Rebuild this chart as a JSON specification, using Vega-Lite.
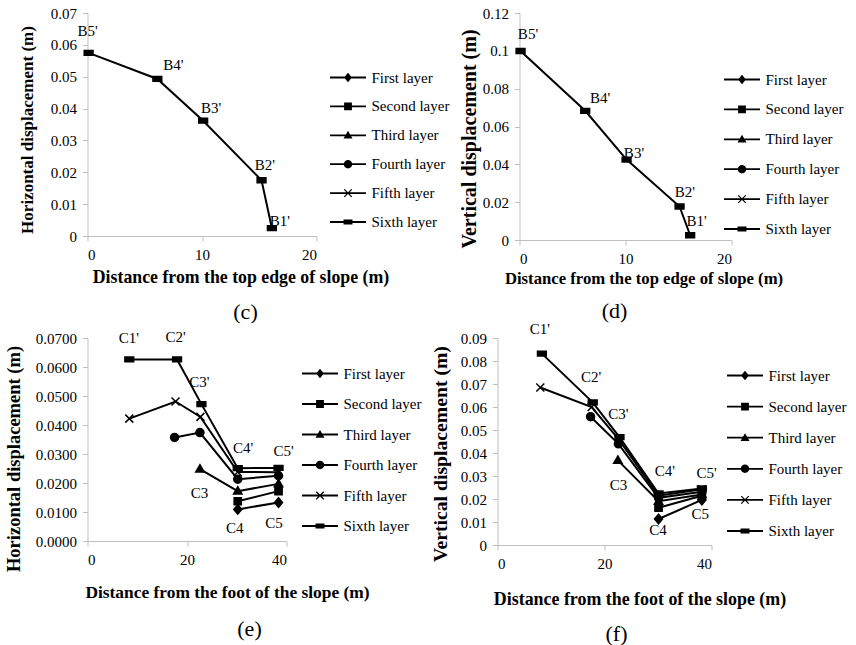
{
  "$schema": "https://vega.github.io/schema/vega-lite/v6.json",
  "background": "white",
  "padding": {"left": 4.5, "top": 6, "right": 0, "bottom": 0},
  "config": {
    "font": "Liberation Serif",
    "view": {"stroke": null},
    "axis": {
      "grid": false,
      "domainColor": "#bfbfbf",
      "tickColor": "#bfbfbf",
      "tickSize": 5,
      "tickCount": 20,
      "labelFont": "Liberation Serif",
      "labelFontSize": 15,
      "labelColor": "black",
      "labelPadding": 6,
      "labelOverlap": false,
      "titleFont": "Liberation Serif",
      "titleFontSize": 17,
      "titleFontWeight": "bold",
      "titleColor": "black"
    },
    "legend": {
      "labelFont": "Liberation Serif",
      "labelFontSize": 15,
      "labelColor": "black",
      "padding": 0,
      "labelOffset": 16,
      "symbolSize": 144
    },
    "title": {"font": "Liberation Serif", "fontSize": 22, "fontWeight": "normal", "color": "black", "orient": "bottom", "anchor": "middle", "frame": "group"}
  },
  "datasets": {
    "pts": [
      {"panel": "c", "series": "Sixth layer", "x": 0.1, "y": 0.0575},
      {"panel": "c", "series": "Sixth layer", "x": 6.1, "y": 0.0493},
      {"panel": "c", "series": "Sixth layer", "x": 10.1, "y": 0.0362},
      {"panel": "c", "series": "Sixth layer", "x": 15.2, "y": 0.0175},
      {"panel": "c", "series": "Sixth layer", "x": 16.1, "y": 0.0025},
      {"panel": "d", "series": "Sixth layer", "x": 0.1, "y": 0.0999},
      {"panel": "d", "series": "Sixth layer", "x": 6.2, "y": 0.0683},
      {"panel": "d", "series": "Sixth layer", "x": 10.1, "y": 0.0425},
      {"panel": "d", "series": "Sixth layer", "x": 15.1, "y": 0.0177},
      {"panel": "d", "series": "Sixth layer", "x": 16.1, "y": 0.0025},
      {"panel": "e", "series": "Sixth layer", "x": 8.4, "y": 0.0626},
      {"panel": "e", "series": "Sixth layer", "x": 18.0, "y": 0.0626},
      {"panel": "e", "series": "Sixth layer", "x": 22.9, "y": 0.0472},
      {"panel": "e", "series": "Sixth layer", "x": 30.2, "y": 0.0251},
      {"panel": "e", "series": "Sixth layer", "x": 38.4, "y": 0.0252},
      {"panel": "e", "series": "Fifth layer", "x": 8.4, "y": 0.0422},
      {"panel": "e", "series": "Fifth layer", "x": 17.7, "y": 0.0481},
      {"panel": "e", "series": "Fifth layer", "x": 22.7, "y": 0.0428},
      {"panel": "e", "series": "Fifth layer", "x": 30.2, "y": 0.0238},
      {"panel": "e", "series": "Fifth layer", "x": 38.4, "y": 0.0237},
      {"panel": "e", "series": "Fourth layer", "x": 17.5, "y": 0.0357},
      {"panel": "e", "series": "Fourth layer", "x": 22.6, "y": 0.0374},
      {"panel": "e", "series": "Fourth layer", "x": 30.2, "y": 0.0213},
      {"panel": "e", "series": "Fourth layer", "x": 38.4, "y": 0.0225},
      {"panel": "e", "series": "Third layer", "x": 22.6, "y": 0.0248},
      {"panel": "e", "series": "Third layer", "x": 30.2, "y": 0.0172},
      {"panel": "e", "series": "Third layer", "x": 38.4, "y": 0.0197},
      {"panel": "e", "series": "Second layer", "x": 30.2, "y": 0.0137},
      {"panel": "e", "series": "Second layer", "x": 38.4, "y": 0.0172},
      {"panel": "e", "series": "First layer", "x": 30.2, "y": 0.0109},
      {"panel": "e", "series": "First layer", "x": 38.4, "y": 0.0133},
      {"panel": "f", "series": "Sixth layer", "x": 8.3, "y": 0.0832},
      {"panel": "f", "series": "Sixth layer", "x": 17.8, "y": 0.0620},
      {"panel": "f", "series": "Sixth layer", "x": 22.8, "y": 0.0469},
      {"panel": "f", "series": "Sixth layer", "x": 30.1, "y": 0.0224},
      {"panel": "f", "series": "Sixth layer", "x": 38.2, "y": 0.0246},
      {"panel": "f", "series": "Fifth layer", "x": 8.0, "y": 0.0685},
      {"panel": "f", "series": "Fifth layer", "x": 17.6, "y": 0.0600},
      {"panel": "f", "series": "Fifth layer", "x": 22.7, "y": 0.0458},
      {"panel": "f", "series": "Fifth layer", "x": 30.1, "y": 0.0214},
      {"panel": "f", "series": "Fifth layer", "x": 38.2, "y": 0.0242},
      {"panel": "f", "series": "Fourth layer", "x": 17.4, "y": 0.0558},
      {"panel": "f", "series": "Fourth layer", "x": 22.6, "y": 0.0440},
      {"panel": "f", "series": "Fourth layer", "x": 30.1, "y": 0.0205},
      {"panel": "f", "series": "Fourth layer", "x": 38.2, "y": 0.0232},
      {"panel": "f", "series": "Third layer", "x": 22.5, "y": 0.0368},
      {"panel": "f", "series": "Third layer", "x": 30.1, "y": 0.0190},
      {"panel": "f", "series": "Third layer", "x": 38.2, "y": 0.0220},
      {"panel": "f", "series": "Second layer", "x": 30.1, "y": 0.0162},
      {"panel": "f", "series": "Second layer", "x": 38.2, "y": 0.0214},
      {"panel": "f", "series": "First layer", "x": 30.1, "y": 0.0113},
      {"panel": "f", "series": "First layer", "x": 38.2, "y": 0.0196}
    ],
    "labels": [
      {"panel": "c", "label": "B5'", "x": 0.0, "y": 0.0644},
      {"panel": "c", "label": "B4'", "x": 7.5, "y": 0.0537},
      {"panel": "c", "label": "B3'", "x": 10.8, "y": 0.0402},
      {"panel": "c", "label": "B2'", "x": 15.5, "y": 0.0222},
      {"panel": "c", "label": "B1'", "x": 16.8, "y": 0.0048},
      {"panel": "d", "label": "B5'", "x": 0.8, "y": 0.1091},
      {"panel": "d", "label": "B4'", "x": 7.6, "y": 0.0750},
      {"panel": "d", "label": "B3'", "x": 10.8, "y": 0.0462},
      {"panel": "d", "label": "B2'", "x": 15.6, "y": 0.0255},
      {"panel": "d", "label": "B1'", "x": 16.7, "y": 0.0102},
      {"panel": "e", "label": "C1'", "x": 8.3, "y": 0.0701},
      {"panel": "e", "label": "C2'", "x": 17.7, "y": 0.0705},
      {"panel": "e", "label": "C3'", "x": 22.5, "y": 0.0549},
      {"panel": "e", "label": "C4'", "x": 31.3, "y": 0.0322},
      {"panel": "e", "label": "C5'", "x": 39.4, "y": 0.0310},
      {"panel": "e", "label": "C3", "x": 22.5, "y": 0.0164},
      {"panel": "e", "label": "C4", "x": 29.6, "y": 0.0046},
      {"panel": "e", "label": "C5", "x": 37.5, "y": 0.0061},
      {"panel": "f", "label": "C1'", "x": 7.9, "y": 0.0937},
      {"panel": "f", "label": "C2'", "x": 17.5, "y": 0.0730},
      {"panel": "f", "label": "C3'", "x": 22.6, "y": 0.0571},
      {"panel": "f", "label": "C4'", "x": 31.3, "y": 0.0322},
      {"panel": "f", "label": "C5'", "x": 39.1, "y": 0.0315},
      {"panel": "f", "label": "C3", "x": 22.6, "y": 0.0260},
      {"panel": "f", "label": "C4", "x": 30.0, "y": 0.0065},
      {"panel": "f", "label": "C5", "x": 37.9, "y": 0.0133}
    ]
  },
  "vconcat": [
    {
      "hconcat": [
        {
          "width": 229, "height": 223,
          "title": {"text": "(c)", "dx": 43.5, "offset": 16},
          "resolve": {"scale": {"shape": "independent"}, "legend": {"shape": "independent"}},
          "layer": [
            {
              "data": {"name": "pts"},
              "transform": [{"filter": "datum.panel == 'c'"}],
              "mark": {"type": "line", "color": "black", "strokeWidth": 2},
              "encoding": {
                "x": {"field": "x", "type": "quantitative", "scale": {"domain": [0, 20], "nice": false}, "axis": {"values": [0, 10, 20], "format": "d", "title": "Distance from the top edge of slope (m)", "titlePadding": 6.5, "titleFontSize": 17.8, "titleX": 153}},
                "y": {"field": "y", "type": "quantitative", "scale": {"domain": [0, 0.07], "nice": false}, "axis": {"values": [0, 0.01, 0.02, 0.03, 0.04, 0.05, 0.06, 0.07], "tickCount": 20, "format": ".2~f", "title": "Horizontal displacement (m)", "titlePadding": 13.5, "titleFontSize": 17, "titleY": 116.5}},
                "detail": {"field": "series"}
              }
            },
            {
              "data": {"name": "pts"},
              "transform": [{"filter": "datum.panel == 'c'"}],
              "mark": {"type": "point", "filled": true, "fill": "black", "stroke": "black", "strokeWidth": 1.5, "opacity": 1, "size": 64},
              "encoding": {
                "x": {"field": "x", "type": "quantitative"},
                "y": {"field": "y", "type": "quantitative"},
                "shape": {"field": "series", "type": "nominal", "legend": null,
                  "scale": {"domain": ["First layer", "Second layer", "Third layer", "Fourth layer", "Fifth layer", "Sixth layer"],
                    "range": ["M0,-1.2L1,0L0,1.2L-1,0Z", "M-0.9,-0.9H0.9V0.9H-0.9Z", "M0,-1.1L1.05,0.75H-1.05Z", "M1,0A1,1,0,1,1,-1,0A1,1,0,1,1,1,0Z", "M-1,-1L1,1M-1,1L1,-1", "M-1.1,-0.6H1.1V0.6H-1.1Z"]}}
              }
            },
            {
              "data": {"name": "labels"},
              "transform": [{"filter": "datum.panel == 'c'"}],
              "mark": {"type": "text", "font": "Liberation Serif", "fontSize": 15, "color": "black"},
              "encoding": {
                "x": {"field": "x", "type": "quantitative"},
                "y": {"field": "y", "type": "quantitative"},
                "text": {"field": "label"}
              }
            },
            {
              "data": {"name": "pts"},
              "transform": [{"filter": "datum.panel == 'none'"}],
              "mark": {"type": "point", "filled": true, "fill": "black", "opacity": 1, "size": 144},
              "encoding": {
                "shape": {"field": "series", "type": "nominal",
                  "legend": {"title": null, "orient": "none", "legendX": 253, "legendY": 57, "rowPadding": 12.9},
                  "scale": {"domain": ["First layer", "Second layer", "Third layer", "Fourth layer", "Fifth layer", "Sixth layer"],
                    "range": ["M-3,-0.15H3V0.15H-3ZM0,-0.8L0.65,0L0,0.8L-0.65,0Z", "M-3,-0.15H3V0.15H-3ZM-0.65,-0.65H0.65V0.65H-0.65Z", "M-3,-0.15H3V0.15H-3ZM0,-0.75L0.75,0.55H-0.75Z", "M-3,-0.15H3V0.15H-3ZM0.7,0A0.7,0.7,0,1,1,-0.7,0A0.7,0.7,0,1,1,0.7,0Z", "M-3,-0.15H3V0.15H-3ZM-0.7,-0.55L-0.55,-0.7L0.7,0.55L0.55,0.7ZM0.55,-0.7L0.7,-0.55L-0.55,0.7L-0.7,0.55Z", "M-3,-0.15H3V0.15H-3ZM-0.75,-0.4H0.75V0.4H-0.75Z"]}}
              }
            }
          ]
        },
        {
          "width": 212, "height": 227,
          "title": {"text": "(d)", "dx": -11, "offset": 14},
          "resolve": {"scale": {"shape": "independent"}, "legend": {"shape": "independent"}},
          "layer": [
            {
              "data": {"name": "pts"},
              "transform": [{"filter": "datum.panel == 'd'"}],
              "mark": {"type": "line", "color": "black", "strokeWidth": 2},
              "encoding": {
                "x": {"field": "x", "type": "quantitative", "scale": {"domain": [0, 20], "nice": false}, "axis": {"values": [0, 10, 20], "format": "d", "title": "Distance from the top edge of slope (m)", "titlePadding": 4, "titleFontSize": 16.7, "titleX": 124}},
                "y": {"field": "y", "type": "quantitative", "scale": {"domain": [0, 0.12], "nice": false}, "axis": {"values": [0, 0.02, 0.04, 0.06, 0.08, 0.1, 0.12], "tickCount": 20, "format": ".2~f", "title": "Vertical displacement (m)", "titlePadding": 2.5, "titleFontSize": 20, "titleY": 125.5}},
                "detail": {"field": "series"}
              }
            },
            {
              "data": {"name": "pts"},
              "transform": [{"filter": "datum.panel == 'd'"}],
              "mark": {"type": "point", "filled": true, "fill": "black", "stroke": "black", "strokeWidth": 1.5, "opacity": 1, "size": 64},
              "encoding": {
                "x": {"field": "x", "type": "quantitative"},
                "y": {"field": "y", "type": "quantitative"},
                "shape": {"field": "series", "type": "nominal", "legend": null,
                  "scale": {"domain": ["First layer", "Second layer", "Third layer", "Fourth layer", "Fifth layer", "Sixth layer"],
                    "range": ["M0,-1.2L1,0L0,1.2L-1,0Z", "M-0.9,-0.9H0.9V0.9H-0.9Z", "M0,-1.1L1.05,0.75H-1.05Z", "M1,0A1,1,0,1,1,-1,0A1,1,0,1,1,1,0Z", "M-1,-1L1,1M-1,1L1,-1", "M-1.1,-0.6H1.1V0.6H-1.1Z"]}}
              }
            },
            {
              "data": {"name": "labels"},
              "transform": [{"filter": "datum.panel == 'd'"}],
              "mark": {"type": "text", "font": "Liberation Serif", "fontSize": 15, "color": "black"},
              "encoding": {
                "x": {"field": "x", "type": "quantitative"},
                "y": {"field": "y", "type": "quantitative"},
                "text": {"field": "label"}
              }
            },
            {
              "data": {"name": "pts"},
              "transform": [{"filter": "datum.panel == 'none'"}],
              "mark": {"type": "point", "filled": true, "fill": "black", "opacity": 1, "size": 144},
              "encoding": {
                "shape": {"field": "series", "type": "nominal",
                  "legend": {"title": null, "orient": "none", "legendX": 215, "legendY": 59, "rowPadding": 13.9},
                  "scale": {"domain": ["First layer", "Second layer", "Third layer", "Fourth layer", "Fifth layer", "Sixth layer"],
                    "range": ["M-3,-0.15H3V0.15H-3ZM0,-0.8L0.65,0L0,0.8L-0.65,0Z", "M-3,-0.15H3V0.15H-3ZM-0.65,-0.65H0.65V0.65H-0.65Z", "M-3,-0.15H3V0.15H-3ZM0,-0.75L0.75,0.55H-0.75Z", "M-3,-0.15H3V0.15H-3ZM0.7,0A0.7,0.7,0,1,1,-0.7,0A0.7,0.7,0,1,1,0.7,0Z", "M-3,-0.15H3V0.15H-3ZM-0.7,-0.55L-0.55,-0.7L0.7,0.55L0.55,0.7ZM0.55,-0.7L0.7,-0.55L-0.55,0.7L-0.7,0.55Z", "M-3,-0.15H3V0.15H-3ZM-0.75,-0.4H0.75V0.4H-0.75Z"]}}
              }
            }
          ]
        }
      ],
      "spacing": 203,
      "bounds": "flush",
      "resolve": {"scale": {"shape": "independent"}, "legend": {"shape": "independent"}}
    },
    {
      "hconcat": [
        {
          "width": 199, "height": 203,
          "title": {"text": "(e)", "dx": 62.5, "offset": 19},
          "resolve": {"scale": {"shape": "independent"}, "legend": {"shape": "independent"}},
          "layer": [
            {
              "data": {"name": "pts"},
              "transform": [{"filter": "datum.panel == 'e'"}],
              "mark": {"type": "line", "color": "black", "strokeWidth": 2},
              "encoding": {
                "x": {"field": "x", "type": "quantitative", "scale": {"domain": [0, 40], "nice": false}, "axis": {"values": [0, 20, 40], "format": "d", "title": "Distance from the foot of the slope (m)", "titlePadding": 16, "titleFontSize": 17.4, "titleX": 139.5}},
                "y": {"field": "y", "type": "quantitative", "scale": {"domain": [0, 0.07], "nice": false}, "axis": {"values": [0, 0.01, 0.02, 0.03, 0.04, 0.05, 0.06, 0.07], "tickCount": 20, "format": ".4f", "title": "Horizontal displacement (m)", "titlePadding": 11.5, "titleFontSize": 18.5, "titleY": 120.5}},
                "detail": {"field": "series"}
              }
            },
            {
              "data": {"name": "pts"},
              "transform": [{"filter": "datum.panel == 'e'"}],
              "mark": {"type": "point", "filled": true, "fill": "black", "stroke": "black", "strokeWidth": 1.5, "opacity": 1, "size": 64},
              "encoding": {
                "x": {"field": "x", "type": "quantitative"},
                "y": {"field": "y", "type": "quantitative"},
                "shape": {"field": "series", "type": "nominal", "legend": null,
                  "scale": {"domain": ["First layer", "Second layer", "Third layer", "Fourth layer", "Fifth layer", "Sixth layer"],
                    "range": ["M0,-1.2L1,0L0,1.2L-1,0Z", "M-0.9,-0.9H0.9V0.9H-0.9Z", "M0,-1.1L1.05,0.75H-1.05Z", "M1,0A1,1,0,1,1,-1,0A1,1,0,1,1,1,0Z", "M-1,-1L1,1M-1,1L1,-1", "M-1.1,-0.6H1.1V0.6H-1.1Z"]}}
              }
            },
            {
              "data": {"name": "labels"},
              "transform": [{"filter": "datum.panel == 'e'"}],
              "mark": {"type": "text", "font": "Liberation Serif", "fontSize": 15, "color": "black"},
              "encoding": {
                "x": {"field": "x", "type": "quantitative"},
                "y": {"field": "y", "type": "quantitative"},
                "text": {"field": "label"}
              }
            },
            {
              "data": {"name": "pts"},
              "transform": [{"filter": "datum.panel == 'none'"}],
              "mark": {"type": "point", "filled": true, "fill": "black", "opacity": 1, "size": 144},
              "encoding": {
                "shape": {"field": "series", "type": "nominal",
                  "legend": {"title": null, "orient": "none", "legendX": 225, "legendY": 28, "rowPadding": 14.5},
                  "scale": {"domain": ["First layer", "Second layer", "Third layer", "Fourth layer", "Fifth layer", "Sixth layer"],
                    "range": ["M-3,-0.15H3V0.15H-3ZM0,-0.8L0.65,0L0,0.8L-0.65,0Z", "M-3,-0.15H3V0.15H-3ZM-0.65,-0.65H0.65V0.65H-0.65Z", "M-3,-0.15H3V0.15H-3ZM0,-0.75L0.75,0.55H-0.75Z", "M-3,-0.15H3V0.15H-3ZM0.7,0A0.7,0.7,0,1,1,-0.7,0A0.7,0.7,0,1,1,0.7,0Z", "M-3,-0.15H3V0.15H-3ZM-0.7,-0.55L-0.55,-0.7L0.7,0.55L0.55,0.7ZM0.55,-0.7L0.7,-0.55L-0.55,0.7L-0.7,0.55Z", "M-3,-0.15H3V0.15H-3ZM-0.75,-0.4H0.75V0.4H-0.75Z"]}}
              }
            }
          ]
        },
        {
          "width": 214, "height": 207,
          "title": {"text": "(f)", "dx": 12, "offset": 16},
          "resolve": {"scale": {"shape": "independent"}, "legend": {"shape": "independent"}},
          "layer": [
            {
              "data": {"name": "pts"},
              "transform": [{"filter": "datum.panel == 'f'"}],
              "mark": {"type": "line", "color": "black", "strokeWidth": 2},
              "encoding": {
                "x": {"field": "x", "type": "quantitative", "scale": {"domain": [0, 40], "nice": false}, "axis": {"values": [0, 20, 40], "format": "d", "title": "Distance from the foot of the slope (m)", "titlePadding": 19.5, "titleFontSize": 17.9, "titleX": 142}},
                "y": {"field": "y", "type": "quantitative", "scale": {"domain": [0, 0.09], "nice": false}, "axis": {"values": [0, 0.01, 0.02, 0.03, 0.04, 0.05, 0.06, 0.07, 0.08, 0.09], "tickCount": 20, "format": ".2~f", "title": "Vertical displacement (m)", "titlePadding": 10, "titleFontSize": 19.7, "titleY": 115.5}},
                "detail": {"field": "series"}
              }
            },
            {
              "data": {"name": "pts"},
              "transform": [{"filter": "datum.panel == 'f'"}],
              "mark": {"type": "point", "filled": true, "fill": "black", "stroke": "black", "strokeWidth": 1.5, "opacity": 1, "size": 64},
              "encoding": {
                "x": {"field": "x", "type": "quantitative"},
                "y": {"field": "y", "type": "quantitative"},
                "shape": {"field": "series", "type": "nominal", "legend": null,
                  "scale": {"domain": ["First layer", "Second layer", "Third layer", "Fourth layer", "Fifth layer", "Sixth layer"],
                    "range": ["M0,-1.2L1,0L0,1.2L-1,0Z", "M-0.9,-0.9H0.9V0.9H-0.9Z", "M0,-1.1L1.05,0.75H-1.05Z", "M1,0A1,1,0,1,1,-1,0A1,1,0,1,1,1,0Z", "M-1,-1L1,1M-1,1L1,-1", "M-1.1,-0.6H1.1V0.6H-1.1Z"]}}
              }
            },
            {
              "data": {"name": "labels"},
              "transform": [{"filter": "datum.panel == 'f'"}],
              "mark": {"type": "text", "font": "Liberation Serif", "fontSize": 15, "color": "black"},
              "encoding": {
                "x": {"field": "x", "type": "quantitative"},
                "y": {"field": "y", "type": "quantitative"},
                "text": {"field": "label"}
              }
            },
            {
              "data": {"name": "pts"},
              "transform": [{"filter": "datum.panel == 'none'"}],
              "mark": {"type": "point", "filled": true, "fill": "black", "opacity": 1, "size": 144},
              "encoding": {
                "shape": {"field": "series", "type": "nominal",
                  "legend": {"title": null, "orient": "none", "legendX": 240, "legendY": 30, "rowPadding": 15.1},
                  "scale": {"domain": ["First layer", "Second layer", "Third layer", "Fourth layer", "Fifth layer", "Sixth layer"],
                    "range": ["M-3,-0.15H3V0.15H-3ZM0,-0.8L0.65,0L0,0.8L-0.65,0Z", "M-3,-0.15H3V0.15H-3ZM-0.65,-0.65H0.65V0.65H-0.65Z", "M-3,-0.15H3V0.15H-3ZM0,-0.75L0.75,0.55H-0.75Z", "M-3,-0.15H3V0.15H-3ZM0.7,0A0.7,0.7,0,1,1,-0.7,0A0.7,0.7,0,1,1,0.7,0Z", "M-3,-0.15H3V0.15H-3ZM-0.7,-0.55L-0.55,-0.7L0.7,0.55L0.55,0.7ZM0.55,-0.7L0.7,-0.55L-0.55,0.7L-0.7,0.55Z", "M-3,-0.15H3V0.15H-3ZM-0.75,-0.4H0.75V0.4H-0.75Z"]}}
              }
            }
          ]
        }
      ],
      "spacing": 211,
      "bounds": "flush",
      "resolve": {"scale": {"shape": "independent"}, "legend": {"shape": "independent"}}
    }
  ],
  "spacing": -2,
  "resolve": {"scale": {"shape": "independent"}, "legend": {"shape": "independent"}}
}
